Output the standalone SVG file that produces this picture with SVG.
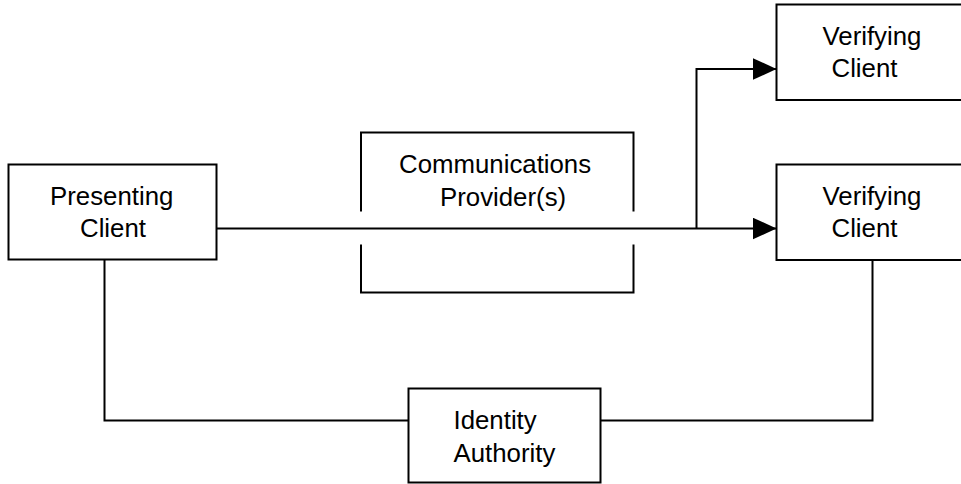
<svg xmlns="http://www.w3.org/2000/svg" width="961" height="484" viewBox="0 0 961 484">
<style>
.box{fill:#fff;stroke:#000;stroke-width:2}
.ln{fill:none;stroke:#000;stroke-width:2}
text{font-family:"Liberation Sans",Arial,sans-serif;font-size:25.8px;fill:#000}
</style>
<defs>
<marker id="arr" markerWidth="24" markerHeight="22" refX="24" refY="11" orient="auto" markerUnits="userSpaceOnUse">
<path d="M0,0 L24,11 L0,22 Z" fill="#000"/>
</marker>
</defs>
<rect width="961" height="484" fill="#fff"/>
<g id="connectors">
<path class="ln" d="M216.5,228.5 H776.5" marker-end="url(#arr)"/>
<path class="ln" d="M696.5,228.5 V69 H776.5" marker-end="url(#arr)"/>
<path class="ln" d="M104.5,259 V420.5 H408.5"/>
<path class="ln" d="M872.5,260 V420.5 H600.5"/>
</g>
<g id="presenting-client">
<rect class="box" x="8.5" y="164.5" width="208" height="95"/>
<text x="50" y="205">Presenting</text>
<text x="80" y="237">Client</text>
</g>
<g id="communications-providers">
<path class="ln" d="M361,211.5 V132.5 H633.5 V211.5 M361,244.5 V292.5 H633.5 V244.5"/>
<text x="399" y="173">Communications</text>
<text x="440" y="206">Provider(s)</text>
</g>
<g id="verifying-client-1">
<rect class="box" x="776.5" y="4.5" width="200" height="95.5"/>
<text x="822.5" y="45">Verifying</text>
<text x="831.5" y="77">Client</text>
</g>
<g id="verifying-client-2">
<rect class="box" x="776.5" y="164.5" width="200" height="95.5"/>
<text x="822.5" y="205">Verifying</text>
<text x="831.5" y="237">Client</text>
</g>
<g id="identity-authority">
<rect class="box" x="408.5" y="388.5" width="192" height="94"/>
<text x="453.5" y="429">Identity</text>
<text x="453.5" y="461.5">Authority</text>
</g>
</svg>
